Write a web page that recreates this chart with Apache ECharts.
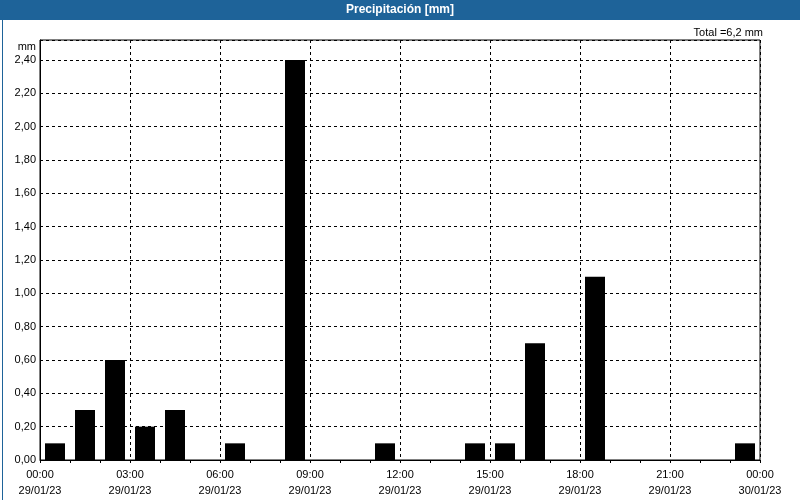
<!DOCTYPE html>
<html>
<head>
<meta charset="utf-8">
<script src="https://cdn.jsdelivr.net/npm/echarts@6/dist/echarts.min.js"></script>
<style>
html,body{margin:0;padding:0;background:#fff;}
#c{width:800px;height:500px;}
</style>
</head>
<body>
<div id="c"></div>
<script>
// hours of the day (bar bins) and hourly precipitation in mm
const hours = [0,1,2,3,4,5,6,7,8,9,10,11,12,13,14,15,16,17,18,19,20,21,22,23];
const precip = [0.1,0.3,0.6,0.2,0.3,0,0.1,0,2.4,0,0,0.1,0,0,0.1,0.1,0.7,0,1.1,0,0,0,0,0.1];
const dayLabels = ['29/01/23','30/01/23'];
const titleText = 'Precipitación [mm]';
const unitText = 'mm';

const total = precip.reduce((a,b)=>a+b,0);
const fmtNum = (v,d)=>v.toFixed(d).replace('.',',');

const chart = echarts.init(document.getElementById('c'));
const font = 'Liberation Sans';
chart.setOption({
  backgroundColor:'#ffffff',
  animation:false,
  textStyle:{fontFamily:font},
  grid:{left:40,right:40,top:40,bottom:40,show:true,borderColor:'#000',borderWidth:1,backgroundColor:'transparent'},
  xAxis:{
    type:'value',min:0,max:24,interval:3,
    axisLine:{show:true,lineStyle:{color:'#000',width:1}},
    axisTick:{show:true,inside:false,length:3,lineStyle:{color:'#000'}},
    minorTick:{show:true,splitNumber:3,length:3,lineStyle:{color:'#000'}},
    splitLine:{show:true,lineStyle:{color:'#000',type:[3,3],width:1}},
    axisLabel:{
      color:'#000',fontSize:11,fontFamily:font,lineHeight:16,margin:7,
      formatter:function(v){
        const h = v % 24;
        const day = v >= 24 ? dayLabels[1] : dayLabels[0];
        return String(h).padStart(2,'0')+':00\n'+day;
      }
    }
  },
  yAxis:{
    type:'value',min:0,max:2.52,interval:0.2,
    axisLine:{show:true,lineStyle:{color:'#000',width:1}},
    axisTick:{show:false},
    splitLine:{show:true,lineStyle:{color:'#000',type:[3,3],width:1}},
    axisLabel:{color:'#000',fontSize:11,fontFamily:font,margin:4,showMaxLabel:false,
      formatter:function(v){return fmtNum(v,2);}}
  },
  series:[{
    type:'bar',
    barWidth:20,
    itemStyle:{color:'#000'},
    data:hours.map((h,i)=>[h+0.5,precip[i]])
  }],
  graphic:[
    {type:'rect',left:0,top:0,shape:{width:800,height:20},style:{fill:'#1e6399'},z:10},
    {type:'text',x:400,y:10,style:{text:titleText,fill:'#fff',font:'bold 12px '+font,textAlign:'center',textVerticalAlign:'middle'},z:11},
    {type:'rect',left:0,top:0,shape:{x:0.5,y:0.5,width:799,height:499},style:{fill:'none',stroke:'#1e6399',lineWidth:1},z:10},
    {type:'text',x:36,y:47,style:{text:unitText,fill:'#000',font:'11px '+font,textAlign:'right',textVerticalAlign:'middle'},z:11},
    {type:'text',x:763,y:33,style:{text:'Total ='+fmtNum(total,1)+' mm',fill:'#000',font:'11px '+font,textAlign:'right',textVerticalAlign:'middle'},z:11}
  ]
});
</script>
</body>
</html>
